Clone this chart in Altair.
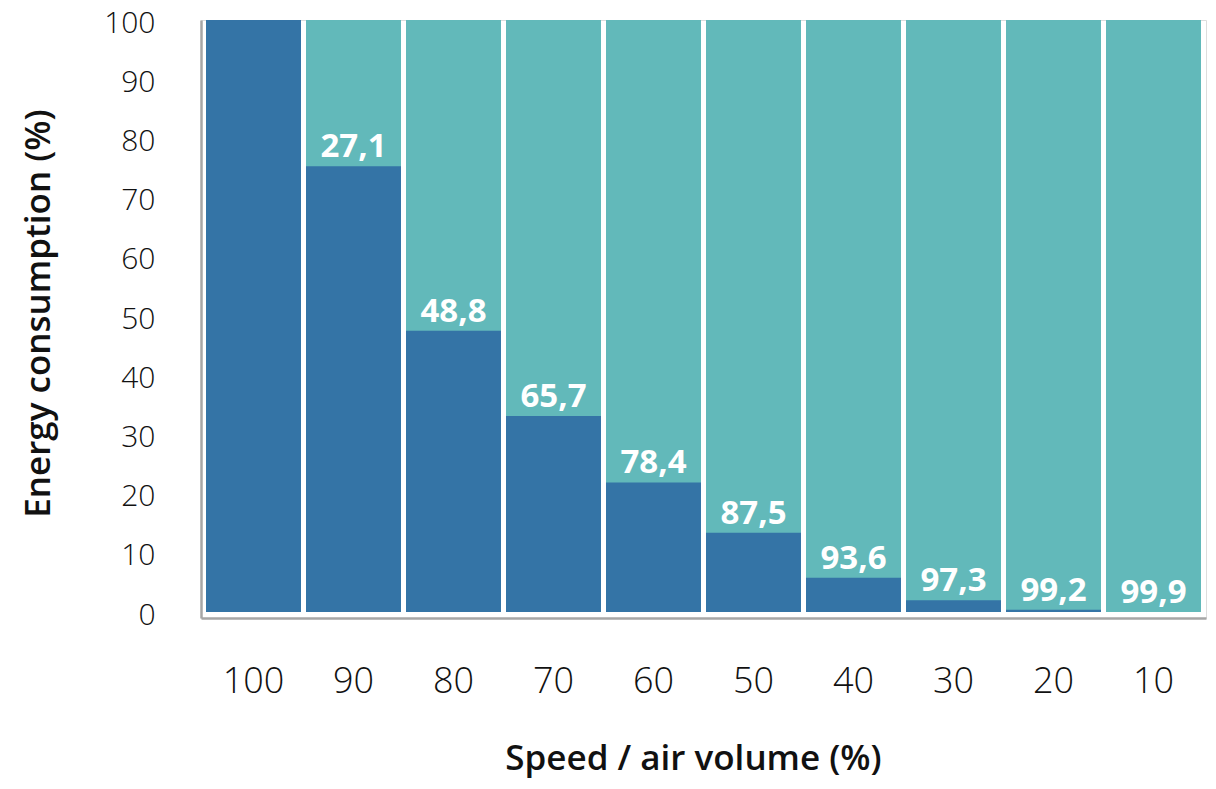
import altair as alt
import pandas as pd

speed = ["100", "90", "80", "70", "60", "50", "40", "30", "20", "10"]
consumption = [100, 75.3, 47.5, 33.1, 21.9, 13.4, 5.8, 2.0, 0.4, 0.0]
savings = [None, 27.1, 48.8, 65.7, 78.4, 87.5, 93.6, 97.3, 99.2, 99.9]
total = [100] * 10

labels = ["" if s is None else f"{s:.1f}".replace(".", ",") for s in savings]

df = pd.DataFrame({
    "speed": speed,
    "consumption": consumption,
    "total": total,
    "label": labels,
})

DARK = "#3474a6"
TEAL = "#62b9ba"
FONT = "Open Sans"

x = alt.X(
    "speed:N",
    sort=speed,
    scale=alt.Scale(paddingInner=0.05, paddingOuter=0.05),
    axis=alt.Axis(
        title="Speed / air volume (%)",
        labelAngle=0,
        ticks=False,
        tickSize=0,
        labelPadding=46,
        labelFontSize=36,
        labelFont=FONT,
        labelFontWeight=300,
        labelColor="#111111",
        domainColor="#a6a6a6",
        domainWidth=2.5,
        titleFont=FONT,
        titleFontSize=35,
        titleFontWeight=600,
        titleColor="#111111",
        titlePadding=42,
        titleX=492,
    ),
)

yscale = alt.Scale(domain=[-1, 100], nice=False, zero=False)
yaxis = alt.Axis(
    title="Energy consumption (%)",
    values=[0, 10, 20, 30, 40, 50, 60, 70, 80, 90, 100],
    grid=False,
    ticks=False,
    tickSize=0,
    labelPadding=46,
    labelOffset=3,
    labelFontSize=30,
    labelFont=FONT,
    labelFontWeight=300,
    labelColor="#111111",
    domainColor="#a6a6a6",
    domainWidth=2.5,
    titleFont=FONT,
    titleFontSize=35,
    titleFontWeight=600,
    titleColor="#111111",
    titlePadding=47,
    titleY=293,
)

teal = alt.Chart(df).mark_bar(color=TEAL).encode(
    x=x,
    y=alt.Y("total:Q", scale=yscale, axis=yaxis),
    y2=alt.datum(0),
)

dark = alt.Chart(df).mark_bar(color=DARK).encode(
    x=x,
    y=alt.Y("consumption:Q", scale=yscale),
    y2=alt.datum(0),
)

text = alt.Chart(df).mark_text(
    color="white",
    font=FONT,
    fontSize=33,
    fontWeight="bold",
    baseline="alphabetic",
    dy=-9,
).encode(
    x=x,
    y=alt.Y("consumption:Q", scale=yscale),
    text="label:N",
)

chart = alt.layer(teal, dark, text).properties(
    width=1005,
    height=598,
    autosize=alt.AutoSizeParams(type="none"),
    padding={"left": 193, "top": 12, "right": 2, "bottom": 163},
).configure_view(stroke=None).configure(background="white")

chart.save("out.html", embed_options={"renderer": "svg", "actions": False})
